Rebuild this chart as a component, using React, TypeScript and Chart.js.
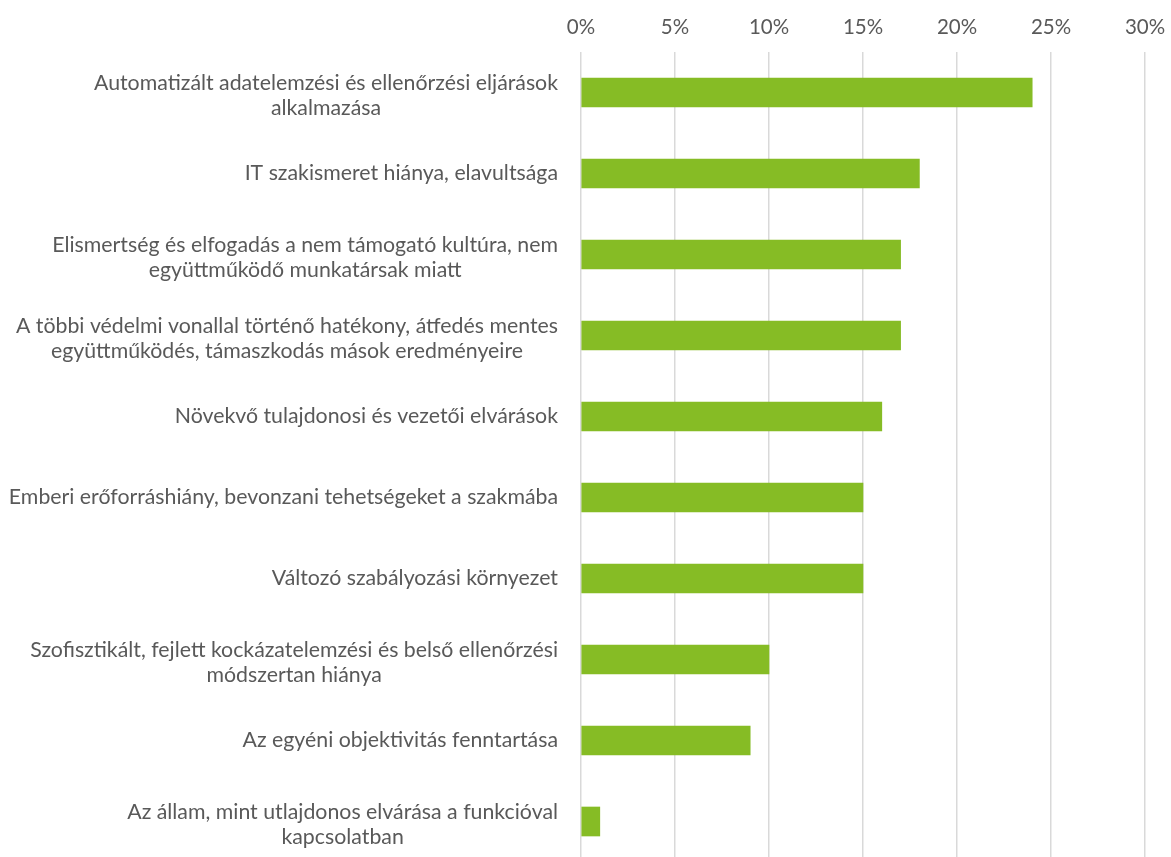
import React, { useEffect, useRef } from "react";
import { Chart, registerables } from "chart.js";

Chart.register(...registerables);

const categories: string[][] = [
  ["Automatizált adatelemzési és ellenőrzési eljárások", "alkalmazása"],
  ["IT szakismeret hiánya, elavultsága"],
  ["Elismertség és elfogadás a nem támogató kultúra, nem", "együttműködő munkatársak miatt"],
  ["A többi védelmi vonallal történő hatékony, átfedés mentes", "együttműködés, támaszkodás mások eredményeire"],
  ["Növekvő tulajdonosi és vezetői elvárások"],
  ["Emberi erőforráshiány, bevonzani tehetségeket a szakmába"],
  ["Változó szabályozási környezet"],
  ["Szofisztikált, fejlett kockázatelemzési és belső ellenőrzési", "módszertan hiánya"],
  ["Az egyéni objektivitás fenntartása"],
  ["Az állam, mint utlajdonos elvárása a funkcióval", "kapcsolatban"],
];

const values: number[] = [24, 18, 17, 17, 16, 15, 15, 10, 9, 1];

const tickValues: number[] = [0, 5, 10, 15, 20, 25, 30];

const FONT_FAMILY = "Lato, sans-serif";
const FONT_SIZE = 21.3;
const TICK_FONT_SIZE = 20.5;
const TEXT_COLOR = "#595959";

const blockLabelsPlugin = {
  id: "blockLabels",
  afterDraw(chart: any) {
    const yScale = chart.scales.y;
    const ctx = chart.ctx;
    ctx.save();
    ctx.font = `${FONT_SIZE}px ${FONT_FAMILY}`;
    ctx.fillStyle = TEXT_COLOR;
    ctx.textAlign = "center";
    ctx.textBaseline = "middle";
    const lineH = 25;
    const right = chart.chartArea.left - 23;
    categories.forEach((lines, i) => {
      const y = yScale.getPixelForTick(i);
      const maxW = Math.max(...lines.map((l) => ctx.measureText(l).width));
      const cx = right - maxW / 2;
      const startY = y - ((lines.length - 1) * lineH) / 2 + (lines.length > 1 ? 3 : 0);
      lines.forEach((l, j) => {
        ctx.fillText(l, cx, startY + j * lineH);
      });
    });
    ctx.restore();
  },
};

export default function App() {
  const canvasRef = useRef<HTMLCanvasElement | null>(null);

  useEffect(() => {
    document.body.style.margin = "0";
    document.body.style.overflow = "hidden";
    const canvas = canvasRef.current;
    if (!canvas) return;
    const chart = new Chart(canvas, {
      type: "bar",
      data: {
        labels: categories.map((c) => c.join(" ")),
        datasets: [
          {
            data: values,
            backgroundColor: "#86BC25",
            borderWidth: 0,
            barThickness: 29,
          },
        ],
      },
      options: {
        indexAxis: "y",
        responsive: false,
        maintainAspectRatio: false,
        animation: false,
        layout: { padding: { left: 0, right: 26, top: 0, bottom: 0 } },
        plugins: {
          legend: { display: false },
          tooltip: { enabled: false },
        },
        scales: {
          x: {
            position: "top",
            min: 0,
            max: 30,
            afterBuildTicks(scale: any) {
              scale.ticks = tickValues.map((v) => ({ value: v }));
            },
            afterFit(scale: any) {
              scale.height = 52;
              scale.paddingRight = 0;
              scale.paddingLeft = 0;
            },
            ticks: {
              stepSize: 5,
              color: TEXT_COLOR,
              font: { family: FONT_FAMILY, size: TICK_FONT_SIZE },
              padding: 12,
              callback: (v: any) => `${v}%`,
            },
            grid: {
              color: "#d9d9d9",
              lineWidth: 1.5,
              drawTicks: false,
            },
            border: { display: false },
          },
          y: {
            afterFit(scale: any) {
              scale.width = 581;
            },
            ticks: { display: false },
            grid: { display: false },
            border: { display: false },
          },
        },
      },
      plugins: [blockLabelsPlugin],
    });
    return () => chart.destroy();
  }, []);

  return (
    <div style={{ position: "absolute", left: 0, top: 0, width: 1171, height: 862 }}>
      <canvas ref={canvasRef} width={1171} height={862} style={{ width: 1171, height: 862 }} />
    </div>
  );
}
